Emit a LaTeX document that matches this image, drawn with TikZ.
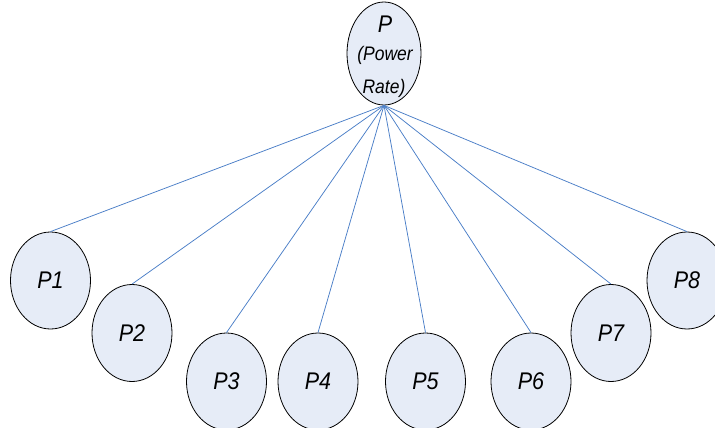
\documentclass[tikz,border=0pt]{standalone}
\usepackage{fontspec}
\setmainfont{Liberation Sans}
\usetikzlibrary{shapes.geometric}
\definecolor{bubblefill}{HTML}{E6ECF7}
\definecolor{linkblue}{HTML}{4A7EC7}
\tikzset{
  bubble/.style={ellipse, draw=black, line width=0.8pt, fill=bubblefill,
    minimum width=80pt, minimum height=97pt, inner sep=0pt,
    font=\fontsize{21.5}{21.5}\selectfont\itshape},
  root/.style={ellipse, draw=black, line width=0.8pt, fill=bubblefill,
    minimum width=74pt, minimum height=103pt, inner sep=0pt},
  link/.style={draw=linkblue, line width=0.75pt},
  roottext/.style={anchor=base, inner sep=0pt, font=\itshape}
}
\newcommand{\tallp}[1]{\scalebox{1}[1.12]{#1}}
\begin{document}
\begin{tikzpicture}[x=1pt, y=-1pt]
  \useasboundingbox (0,0) rectangle (715,428);
  % root node and its three text lines
  \node[root] (P) at (384,53.5) {};
  \node[roottext, font=\fontsize{21.5}{21.5}\selectfont\itshape] (ptitle) at (385,33) {\tallp{P}};
  \node[roottext, font=\fontsize{17.5}{17.5}\selectfont\itshape] (ppower) at (385,60) {\tallp{(Power}};
  \node[roottext, font=\fontsize{17.5}{17.5}\selectfont\itshape] (prate) at (384,93) {\tallp{Rate)}};
  % children
  \node[bubble] (P1) at (50.5,280.5) {\tallp{P1}};
  \node[bubble] (P2) at (132,333) {\tallp{P2}};
  \node[bubble] (P3) at (226.5,381.5) {\tallp{P3}};
  \node[bubble] (P4) at (318,381.5) {\tallp{P4}};
  \node[bubble] (P5) at (425.5,381.5) {\tallp{P5}};
  \node[bubble] (P6) at (531,381.5) {\tallp{P6}};
  \node[bubble] (P7) at (611,333) {\tallp{P7}};
  \node[bubble] (P8) at (687,280.5) {\tallp{P8}};
  % links from the root to every child
  \foreach \c in {P1,P2,P3,P4,P5,P6,P7,P8}
    \draw[link] (P.south) -- (\c.north);
\end{tikzpicture}
\end{document}
